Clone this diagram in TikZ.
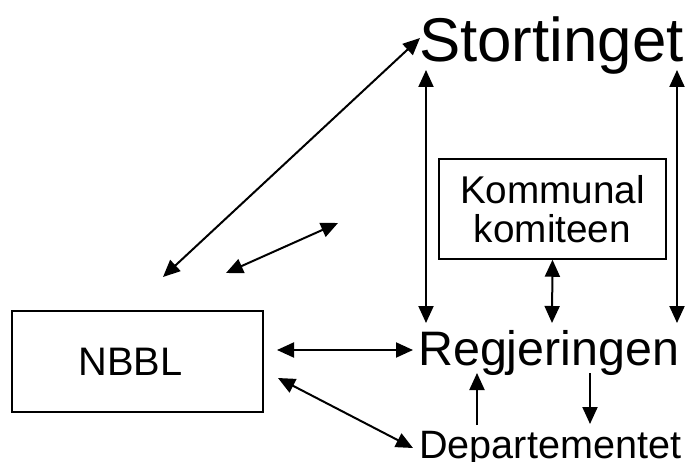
\documentclass[tikz,border=0pt]{standalone}
\usepackage{fontspec}
\setmainfont{Liberation Sans}
\usetikzlibrary{arrows.meta}
\begin{document}
\begin{tikzpicture}[x=1pt,y=-1pt,
  conn/.style={line width=2pt,-{Triangle[length=17pt,width=15pt]}},
  bconn/.style={line width=2pt,{Triangle[length=17pt,width=15pt]}-{Triangle[length=17pt,width=15pt]}},
  boxnode/.style={draw,line width=1.5pt,inner sep=0pt,align=center},
  lbl/.style={inner sep=0pt,anchor=base west}]
\useasboundingbox (0,0) rectangle (690,462);
% labels
\node[lbl,font=\fontsize{61.8}{61.8}\selectfont] (stor) at (419,62) {Stortinget};
\node[lbl,font=\fontsize{48.4}{48.4}\selectfont] (regj) at (418,365) {Regjeringen};
\node[lbl,font=\fontsize{39.6}{39.6}\selectfont] (dep) at (419,458) {Departementet};
\node[boxnode,minimum width=227pt,minimum height=100pt,font=\fontsize{38.7}{39}\selectfont] (kom) at (552.5,209)
  {Kommunal\\komiteen};
\node[boxnode,minimum width=251pt,minimum height=101pt,font=\fontsize{39.8}{40}\selectfont] (nbbl) at (137.5,361.5)
  {NBBL\hspace*{14pt}};
% connector ends
\coordinate (d1a) at (163,277); \coordinate (d1b) at (420,38);
\coordinate (d2a) at (226,273); \coordinate (d2b) at (338,223);
\coordinate (v1a) at (426,70);  \coordinate (v1b) at (426,323);
\coordinate (v2a) at (677,70);  \coordinate (v2b) at (677,323);
\coordinate (v3b) at (552,323);
\coordinate (h1a) at (277,350); \coordinate (h1b) at (413,350);
\coordinate (h2a) at (278,378); \coordinate (h2b) at (413,448);
\coordinate (u1a) at (477,425); \coordinate (u1b) at (477,373);
\coordinate (u2a) at (590,373); \coordinate (u2b) at (590,424);
% connectors
\draw[bconn] (d1a) -- (d1b);
\draw[bconn] (d2a) -- (d2b);
\draw[bconn] (v1a) -- (v1b);
\draw[bconn] (v2a) -- (v2b);
\draw[bconn] (kom.south) -- (v3b);
\draw[bconn] (h1a) -- (h1b);
\draw[bconn] (h2a) -- (h2b);
\draw[conn] (u1a) -- (u1b);
\draw[conn] (u2a) -- (u2b);
\end{tikzpicture}
\end{document}
